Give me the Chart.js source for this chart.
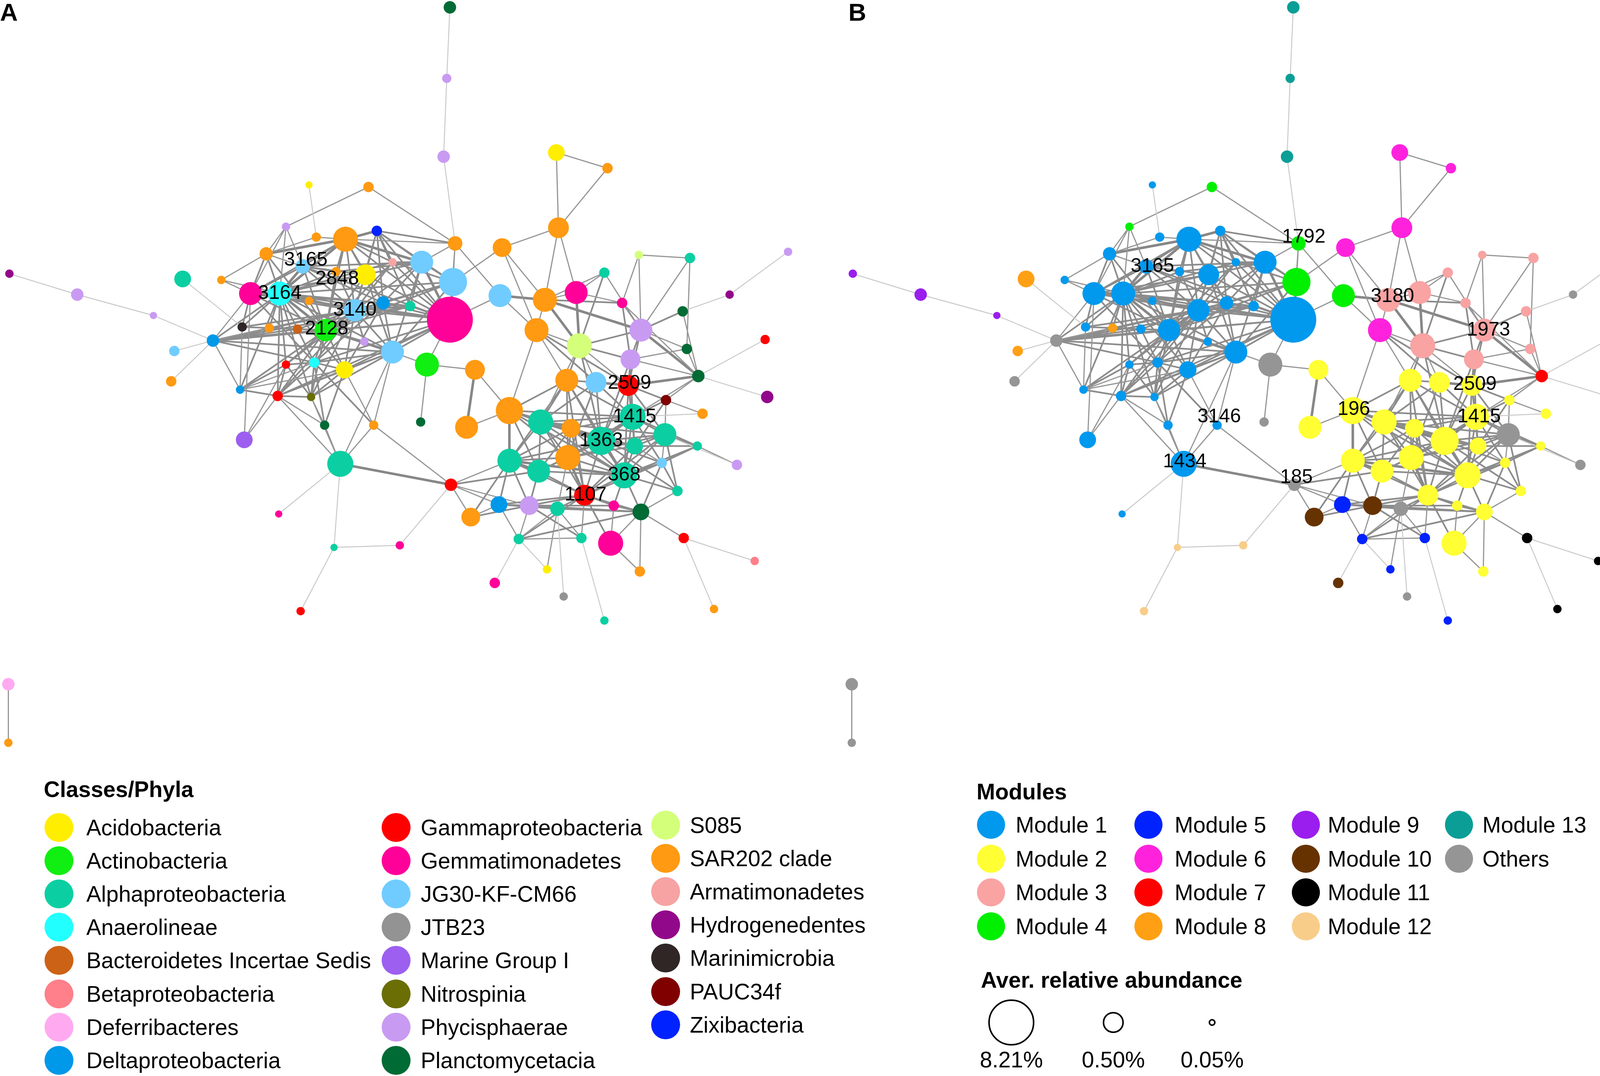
<!DOCTYPE html>
<html>
<head>
<meta charset="utf-8">
<title>Co-occurrence network</title>
<script src="https://cdn.jsdelivr.net/npm/chart.js@4.4.1/dist/chart.umd.min.js"></script>
<style>
  body { margin: 0; background: #fff; font-family: "Liberation Sans", Arial, sans-serif; }
  #page { position: relative; width: 4190px; height: 2754px; overflow: hidden; background: #fff; }
  #net { position: absolute; left: 0; top: 0; }
  .txt { position: absolute; white-space: nowrap; line-height: 1; transform: translateY(-50%); font-size: 57px; color: #000; }
  .bold { font-weight: bold; }
  .dot { position: absolute; border-radius: 50%; box-sizing: border-box; }
  .panel { position: absolute; top: 0; font-weight: bold; font-size: 63px; line-height: 1; }
</style>
</head>
<body>
<div id="page">
  <canvas id="net" width="4190" height="2754"></canvas>
  <div class="panel" style="left:0">A</div>
  <div class="panel" style="left:2172px">B</div>
  <div id="legends"></div>
</div>
<script>
// node layout (panel A layout units), average relative abundance (%), taxon and module
const nodeX = [
  431, 428, 425, 533, 582, 296, 353, 274, 303, 331,
  361, 255, 436, 481, 535, 175, 212, 290, 322, 350,
  376, 404, 434, 479, 522, 552, 579, 612, 661, 755,
  699, 654, 596, 614, 555, 514, 658, 604, 733, 669,
  735, 9, 74, 147, 204, 167, 164, 240, 268, 296,
  232, 258, 285, 312, 340, 367, 393, 431, 349, 376,
  409, 301, 330, 274, 266, 230, 298, 311, 358, 403,
  234, 326, 432, 267, 320, 383, 288, 455, 543, 571,
  602, 638, 673, 488, 447, 518, 547, 606, 576, 637,
  608, 668, 706, 544, 488, 516, 634, 598, 649, 560,
  478, 507, 534, 588, 614, 451, 497, 557, 585, 655,
  723, 524, 613, 474, 540, 684, 579, 8, 8
];
const nodeY = [
  7, 75, 150, 146, 161, 177, 179, 217, 227, 229,
  221, 243, 233, 237, 218, 267, 268, 255, 260, 263,
  251, 251, 270, 283, 287, 280, 261, 244, 247, 241,
  282, 298, 290, 316, 331, 316, 334, 344, 325, 360,
  380, 262, 282, 302, 326, 336, 365, 281, 281, 288,
  313, 314, 315, 316, 297, 290, 293, 306, 327, 337,
  349, 347, 354, 349, 379, 373, 380, 407, 407, 404,
  421, 444, 464, 492, 524, 522, 585, 354, 364, 366,
  369, 383, 396, 393, 409, 404, 410, 399, 422, 416,
  427, 427, 445, 438, 441, 451, 443, 455, 470, 474,
  483, 484, 487, 484, 490, 495, 516, 515, 520, 515,
  537, 545, 547, 558, 571, 583, 594, 655, 711
];
const nodeAbund = [
  0.12, 0.07, 0.12, 0.25, 0.085, 0.05, 0.085, 0.06, 0.07, 0.80,
  0.085, 0.14, 0.17, 0.35, 0.50, 0.25, 0.06, 0.17, 0.07, 0.50,
  0.06, 0.63, 1.13, 0.63, 0.71, 0.63, 0.085, 0.06, 0.085, 0.06,
  0.06, 0.085, 0.085, 0.63, 0.80, 0.71, 0.085, 0.42, 0.07, 0.12,
  0.12, 0.06, 0.12, 0.05, 0.12, 0.085, 0.085, 0.63, 0.71, 0.06,
  0.07, 0.07, 0.07, 0.59, 0.59, 0.14, 0.085, 8.21, 0.06, 0.63,
  0.71, 0.085, 0.27, 0.06, 0.085, 0.06, 0.06, 0.07, 0.07, 0.07,
  0.25, 0.90, 0.12, 0.05, 0.05, 0.06, 0.06, 0.42, 0.63, 0.50,
  0.50, 0.085, 0.085, 1.01, 0.63, 0.80, 0.35, 0.90, 1.13, 0.63,
  0.25, 0.07, 0.085, 0.80, 0.71, 0.63, 0.085, 0.90, 0.085, 0.50,
  0.25, 0.35, 0.17, 0.085, 0.25, 0.35, 0.085, 0.085, 0.80, 0.085,
  0.06, 0.06, 0.085, 0.085, 0.06, 0.06, 0.06, 0.12, 0.06
];
const nodeClass = [
  15, 14, 14, 0, 17, 0, 17, 14, 17, 17,
  22, 17, 17, 17, 17, 2, 17, 10, 17, 0,
  18, 10, 10, 10, 17, 9, 2, 16, 2, 14,
  19, 15, 9, 14, 16, 17, 15, 14, 8, 15,
  19, 19, 14, 14, 7, 10, 17, 9, 3, 17,
  20, 17, 4, 1, 10, 7, 2, 9, 14, 10,
  1, 3, 0, 8, 8, 7, 13, 15, 17, 15,
  12, 2, 8, 9, 2, 9, 8, 17, 17, 10,
  8, 21, 17, 17, 17, 2, 17, 2, 2, 2,
  2, 2, 14, 17, 2, 2, 10, 2, 2, 8,
  7, 14, 2, 9, 15, 17, 2, 2, 9, 8,
  5, 0, 17, 9, 11, 17, 2, 6, 17
];
const nodeModule = [
  12, 12, 12, 5, 5, 0, 3, 3, 0, 0,
  0, 0, 3, 5, 5, 7, 0, 0, 0, 0,
  0, 0, 3, 3, 2, 2, 2, 2, 2, 13,
  13, 2, 2, 2, 2, 5, 2, 2, 6, 6,
  6, 8, 8, 8, 13, 7, 13, 0, 0, 0,
  0, 7, 0, 0, 0, 0, 0, 0, 0, 0,
  13, 0, 0, 0, 0, 0, 0, 0, 0, 13,
  0, 0, 13, 0, 11, 11, 11, 1, 1, 1,
  1, 1, 1, 1, 1, 1, 1, 1, 1, 13,
  1, 1, 13, 1, 1, 1, 1, 1, 1, 1,
  4, 9, 13, 1, 1, 9, 4, 4, 1, 10,
  10, 4, 1, 9, 13, 10, 4, 13, 13
];

// correlations between nodes, by strength
const edgesStrong = [
  [9, 21], [17, 48], [48, 53], [53, 54], [47, 48], [9, 48], [44, 53], [21, 57], [22, 57], [9, 11],
  [77, 84], [83, 94], [85, 88], [88, 97], [87, 88], [93, 99], [94, 95], [71, 72], [24, 34], [9, 10],
  [33, 39], [24, 33], [23, 24], [79, 80], [39, 80], [25, 34], [48, 54], [53, 59], [83, 88], [94, 97]
];
const edgesMid = [
  [9, 17], [9, 18], [9, 19], [9, 20], [9, 47], [9, 53], [9, 54], [9, 55], [9, 57],
  [10, 19], [10, 20], [10, 21], [10, 54], [10, 57], [10, 22], [17, 47], [17, 19], [17, 53], [17, 54],
  [17, 18], [18, 48], [18, 53], [19, 48], [19, 53], [19, 54], [19, 57], [19, 21], [20, 21], [20, 57],
  [21, 22], [21, 54], [21, 55], [21, 59], [22, 54], [22, 55], [47, 50], [47, 53], [47, 11],
  [48, 57], [48, 61], [48, 64], [48, 66], [48, 59], [48, 55], [49, 48], [49, 53], [50, 53], [51, 48],
  [51, 53], [52, 53], [52, 48], [53, 55], [53, 61], [53, 62], [53, 63], [53, 64], [53, 66],
  [53, 57], [54, 55], [54, 57], [54, 59], [54, 61], [54, 62], [55, 57], [55, 59], [56, 57], [56, 54],
  [56, 55], [56, 21], [57, 59], [57, 62], [58, 53], [58, 54], [59, 62], [61, 62], [61, 64], [61, 66],
  [61, 67], [62, 66], [63, 61], [63, 64], [63, 65], [64, 65], [44, 54], [44, 48], [44, 56],
  [10, 12], [10, 55], [10, 56], [11, 48], [11, 53], [17, 21], [17, 57], [17, 55], [18, 54], [18, 21],
  [19, 55], [19, 59], [20, 54], [20, 22], [21, 48], [22, 48], [22, 59], [22, 53], [47, 54], [47, 55],
  [47, 57], [47, 61], [47, 19], [48, 56], [48, 62], [48, 63], [48, 20], [50, 54], [50, 48], [51, 54],
  [52, 54], [53, 56], [53, 20], [54, 63], [54, 64], [54, 66], [55, 61], [55, 62], [57, 61], [57, 64],
  [59, 61], [59, 64], [59, 66], [61, 68], [62, 64], [64, 66], [44, 57], [44, 55], [44, 52], [44, 61],
  [65, 53], [65, 48], [66, 62], [62, 67], [63, 66], [44, 59],
  [78, 79], [78, 85], [78, 88], [78, 93], [78, 94], [78, 87], [79, 87], [79, 88], [80, 87],
  [80, 88], [80, 81], [80, 90], [80, 37], [80, 33], [83, 85], [83, 93], [83, 78], [85, 93], [85, 94],
  [85, 95], [85, 97], [85, 86], [85, 99], [86, 88], [86, 93], [86, 87], [87, 89], [87, 90], [87, 97],
  [87, 96], [88, 89], [88, 90], [88, 93], [88, 95], [88, 99], [88, 94], [89, 90], [89, 97], [90, 97],
  [93, 95], [93, 97], [93, 94], [94, 100], [94, 101], [95, 97], [95, 99], [95, 101], [96, 97], [97, 99],
  [97, 103], [97, 104], [99, 103], [99, 104], [99, 108], [99, 101], [99, 102], [101, 102], [101, 100], [101, 105],
  [103, 104], [34, 78], [34, 88], [34, 37], [33, 34], [33, 37], [37, 87], [37, 88],
  [83, 86], [83, 97], [83, 95], [83, 87], [94, 88], [94, 99], [94, 86], [95, 88], [95, 86], [95, 93],
  [85, 87], [85, 90], [85, 89], [86, 97], [86, 99], [86, 90], [93, 89], [93, 87], [93, 90], [88, 96],
  [88, 98], [99, 90], [99, 89], [99, 96], [97, 98], [97, 91], [90, 91], [89, 91], [89, 98], [96, 104],
  [97, 102], [99, 100], [99, 106], [102, 104], [101, 103], [100, 102], [101, 107], [106, 104], [101, 104],
  [100, 104], [105, 94], [72, 95], [80, 89], [80, 97], [79, 85], [79, 93], [78, 97], [78, 99], [81, 87],
  [81, 90], [87, 91], [96, 98], [96, 91], [35, 80], [35, 79], [24, 32], [26, 34], [32, 37], [31, 33]
];
const edgesWeak = [
  [3, 4], [3, 14], [4, 14], [6, 7], [6, 12], [7, 11], [7, 47], [7, 48], [8, 11], [8, 9],
  [16, 11], [16, 47], [16, 48], [11, 17], [44, 47], [44, 65], [44, 51], [60, 69], [60, 77],
  [13, 14], [13, 24], [13, 22], [12, 21], [12, 22], [12, 23], [12, 9], [12, 57], [14, 24], [14, 25],
  [24, 25], [24, 26], [25, 26], [26, 33], [27, 28], [27, 33], [27, 32], [28, 33], [28, 36],
  [31, 39], [32, 33], [32, 25], [36, 33], [36, 37], [36, 39], [39, 87],
  [39, 81], [37, 39], [63, 70], [64, 70], [47, 70], [65, 50], [65, 61], [65, 62], [67, 66],
  [67, 64], [67, 71], [66, 71], [68, 71], [68, 72], [68, 62], [68, 59], [71, 59], [71, 64], [72, 105],
  [72, 100], [72, 101], [72, 94], [100, 105], [100, 106], [101, 106], [102, 106], [102, 111], [106, 107], [107, 99],
  [107, 102], [103, 108], [104, 109], [104, 112], [108, 112], [98, 104], [91, 92], [82, 81], [81, 89],
  [96, 89], [90, 96], [77, 83], [84, 83], [83, 35], [78, 35], [35, 24], [35, 34], [34, 79], [34, 85],
  [23, 57], [60, 59], [60, 57], [108, 104], [102, 93], [117, 118], [13, 35], [23, 35], [32, 39],
  [34, 80], [7, 17]
];
const edgesFaint = [
  [0, 1], [1, 2], [2, 12], [41, 42], [42, 43], [43, 44], [44, 45], [44, 46], [15, 50], [29, 30],
  [30, 31], [38, 39], [40, 39], [73, 71], [74, 71], [74, 75], [76, 74], [75, 72], [109, 110], [109, 115],
  [113, 106], [114, 102], [116, 107], [111, 106], [5, 8], [82, 87], [89, 92]
];

const classNames = [
  "Acidobacteria", "Actinobacteria", "Alphaproteobacteria", "Anaerolineae",
  "Bacteroidetes Incertae Sedis", "Betaproteobacteria", "Deferribacteres", "Deltaproteobacteria",
  "Gammaproteobacteria", "Gemmatimonadetes", "JG30-KF-CM66", "JTB23",
  "Marine Group I", "Nitrospinia", "Phycisphaerae", "Planctomycetacia",
  "S085", "SAR202 clade", "Armatimonadetes", "Hydrogenedentes",
  "Marinimicrobia", "PAUC34f", "Zixibacteria"
];
const moduleNames = [
  "Module 1", "Module 2", "Module 3", "Module 4", "Module 5", "Module 6", "Module 7",
  "Module 8", "Module 9", "Module 10", "Module 11", "Module 12", "Module 13", "Others"
];
const abundanceLegend = [8.21, 0.50, 0.05];

const labelNodesA = [17, 48, 18, 54, 53, 80, 87, 88, 97, 99];
const labelTextA = ["3165", "3164", "2848", "3140", "2128", "2509", "1415", "1363", "368", "1107"];
const labelNodesB = [17, 12, 24, 33, 80, 83, 87, 68, 71, 72];
const labelTextB = ["3165", "1792", "3180", "1973", "2509", "196", "1415", "3146", "1434", "185"];

// styles
const classColors = [
  "#FFEE00", "#11EE11", "#0BCFA2", "#22FFFF", "#CC6216", "#FF7F8A", "#FFAAF0", "#0098E8",
  "#FF0000", "#FF0099", "#70CCFF", "#939393", "#9C5FF0", "#6A6E05", "#C99AF2", "#006B35",
  "#D4FF7A", "#FF9A12", "#F7A3A3", "#92088A", "#2F2625", "#800000", "#0022FF"
];
const moduleColors = [
  "#0099EE", "#FFFF33", "#F9A3A3", "#00F000", "#0022FF", "#FF22DD", "#FF0000",
  "#FFA014", "#9A1EEE", "#663300", "#000000", "#F8CD8A", "#0A9E96", "#959595"
];
// label nudges (layout units) where the id text sits off the node centre
const labelShiftA = [[3, -6], [0, 0], [1, 7], [0, 0], [1, -1], [1, -2], [2, 0], [0, 0], [0, 0], [1, 0]];
const labelShiftB = [[6, 0], [5, -6], [4, -3], [4, 0], [3, -1], [1, -1], [3, 0], [2, -8], [1, -2], [2, -7]];
const PANEL_B_SHIFT = 808;
const X_MAX = 1568;
const Y_MAX = 1030;

// radius (layout units) matched to the three legend circles, log-interpolated
const sizeAnchors = [[0.05, 3.5], [0.5, 10], [8.21, 22]];
function radiusFor(ab) {
  const l = Math.log10(ab);
  const seg = l <= Math.log10(sizeAnchors[1][0]) ? [sizeAnchors[0], sizeAnchors[1]] : [sizeAnchors[1], sizeAnchors[2]];
  const l0 = Math.log10(seg[0][0]);
  const l1 = Math.log10(seg[1][0]);
  return seg[0][1] + (l - l0) / (l1 - l0) * (seg[1][1] - seg[0][1]);
}

function unitPx(chart, v) {
  const s = chart.scales.x;
  return s.getPixelForValue(v) - s.getPixelForValue(0);
}

function nodeDataset(offset, colors) {
  return {
    data: nodeX.map((x, i) => ({ x: x + offset, y: nodeY[i] })),
    pointBackgroundColor: colors,
    pointBorderWidth: 0,
    pointRadius: ctx => unitPx(ctx.chart, radiusFor(nodeAbund[ctx.dataIndex])),
    pointHoverRadius: ctx => unitPx(ctx.chart, radiusFor(nodeAbund[ctx.dataIndex])),
    showLine: false,
    clip: false,
    order: 0
  };
}

function edgeDataset(list, offset, color, width) {
  const pts = [];
  list.forEach(([a, b]) => {
    pts.push({ x: nodeX[a] + offset, y: nodeY[a] });
    pts.push({ x: nodeX[b] + offset, y: nodeY[b] });
    pts.push({ x: null, y: null });
  });
  return {
    data: pts,
    showLine: true,
    spanGaps: false,
    borderColor: color,
    borderWidth: width,
    pointRadius: 0,
    pointHoverRadius: 0,
    tension: 0,
    clip: false,
    order: 1
  };
}

const datasets = [
  nodeDataset(0, nodeClass.map(c => classColors[c])),
  nodeDataset(PANEL_B_SHIFT, nodeModule.map(m => moduleColors[m]))
];
[0, PANEL_B_SHIFT].forEach(offset => {
  datasets.push(edgeDataset(edgesFaint, offset, "#c8c8c8", 2.4));
  datasets.push(edgeDataset(edgesWeak, offset, "#969696", 3));
  datasets.push(edgeDataset(edgesMid, offset, "#8c8c8c", 4.2));
  datasets.push(edgeDataset(edgesStrong, offset, "#878787", 6.5));
});

const nodeLabelPlugin = {
  id: "nodeLabels",
  afterDatasetsDraw(chart) {
    const { ctx, scales: { x, y } } = chart;
    ctx.save();
    ctx.font = "50px 'Liberation Sans', Arial, sans-serif";
    ctx.fillStyle = "#000";
    ctx.textAlign = "center";
    ctx.textBaseline = "middle";
    const draw = (nodes, texts, shifts, offset) => {
      nodes.forEach((n, k) => {
        const px = x.getPixelForValue(nodeX[n] + offset + shifts[k][0]);
        const py = y.getPixelForValue(nodeY[n] + shifts[k][1]);
        ctx.fillText(texts[k], px, py);
      });
    };
    draw(labelNodesA, labelTextA, labelShiftA, 0);
    draw(labelNodesB, labelTextB, labelShiftB, PANEL_B_SHIFT);
    ctx.restore();
  }
};

const netChart = new Chart(document.getElementById("net"), {
  type: "scatter",
  data: { datasets: datasets },
  options: {
    responsive: false,
    devicePixelRatio: 1,
    animation: false,
    events: [],
    layout: { padding: 0 },
    plugins: {
      legend: { display: false },
      tooltip: { enabled: false }
    },
    scales: {
      x: { type: "linear", min: 0, max: X_MAX, display: false },
      y: { type: "linear", min: 0, max: Y_MAX, reverse: true, display: false }
    }
  },
  plugins: [nodeLabelPlugin]
});

// legends
const legendEl = document.getElementById("legends");

function addText(text, left, cy, bold) {
  const d = document.createElement("div");
  d.className = bold ? "txt bold" : "txt";
  d.textContent = text;
  d.style.left = left + "px";
  d.style.top = cy + "px";
  legendEl.appendChild(d);
  return d;
}

function addDot(cx, cy, r, fill, stroke) {
  const d = document.createElement("div");
  d.className = "dot";
  d.style.left = (cx - r) + "px";
  d.style.top = (cy - r) + "px";
  d.style.width = (2 * r) + "px";
  d.style.height = (2 * r) + "px";
  if (fill) d.style.background = fill;
  if (stroke) d.style.border = "4px solid " + stroke;
  legendEl.appendChild(d);
}

addText("Classes/Phyla", 112, 2020, true);
const classColX = [151, 1014, 1704];
const classTextX = [221, 1077, 1766];
const classRowTop = [2118, 2118, 2112];
classNames.forEach((name, i) => {
  const col = Math.floor(i / 8);
  const row = i % 8;
  const cy = classRowTop[col] + row * 85.1;
  addDot(classColX[col], cy, 37, classColors[i]);
  addText(name, classTextX[col], cy, false);
});

addText("Modules", 2500, 2026, true);
const modColX = [2537, 2940, 3343, 3735];
const modTextX = [2600, 3007, 3399, 3795];
moduleNames.forEach((name, i) => {
  const col = Math.floor(i / 4);
  const row = i % 4;
  const cy = 2111 + row * 86.7;
  addDot(modColX[col], cy, 36, moduleColors[i]);
  addText(name, modTextX[col], cy, false);
});

addText("Aver. relative abundance", 2511, 2508, true);
const sizeColX = [2589, 2850, 3103];
abundanceLegend.forEach((ab, i) => {
  const r = unitPx(netChart, radiusFor(ab));
  addDot(sizeColX[i], 2617, r, null, "#000");
  const t = addText(ab.toFixed(2) + "%", sizeColX[i], 2712, false);
  t.style.transform = "translate(-50%, -50%)";
});
</script>
</body>
</html>
